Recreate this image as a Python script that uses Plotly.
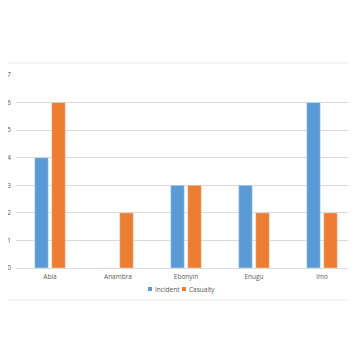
import plotly.graph_objects as go

states = ["Abia", "Anambra", "Ebonyin", "Enugu", "Imo"]
incident = [4, 0, 3, 3, 6]
casualty = [6, 2, 3, 2, 2]
y_ticks = [0, 1, 2, 3, 4, 5, 6, 7]
series_names = ["Incident", "Casualty"]
series_colors = ["#5B9BD5", "#ED7D31"]

OFF = 8  # default page body margin
W, H = 356 - OFF, 330
# target pixel layout (in window coordinates)
PLOT_L, PLOT_R, PLOT_T, PLOT_B = 16, 356, 75, 268
L, T = PLOT_L - OFF, PLOT_T - OFF
R = W - (PLOT_R - OFF)
B = H - (PLOT_B - OFF)
PW, PH = W - L - R, H - T - B


def px_x(px):
    return (px - PLOT_L) / PW


def px_y(py):
    return (PLOT_B - py) / PH


fig = go.Figure()
fig.add_trace(go.Bar(name=series_names[0], x=states, y=incident, marker_color=series_colors[0]))
fig.add_trace(go.Bar(name=series_names[1], x=states, y=casualty, marker_color=series_colors[1]))

shapes = [
    dict(type="line", xref="paper", yref="paper", x0=px_x(OFF), x1=px_x(356),
         y0=px_y(63), y1=px_y(63), line=dict(color="#EBEBEB", width=1)),
    dict(type="line", xref="paper", yref="paper", x0=px_x(OFF), x1=px_x(356),
         y0=px_y(300), y1=px_y(300), line=dict(color="#EBEBEB", width=1)),
]
annotations = []
legend_x = [148, 182]
for name, col, lx in zip(series_names, series_colors, legend_x):
    shapes.append(dict(type="rect", xref="paper", yref="paper",
                       x0=px_x(lx), x1=px_x(lx + 4), y0=px_y(291), y1=px_y(287),
                       fillcolor=col, line=dict(width=0)))
    annotations.append(dict(xref="paper", yref="paper", x=px_x(lx + 5), y=px_y(289),
                            xanchor="left", yanchor="middle", text=name, showarrow=False,
                            font=dict(size=6.5, color="#595959")))

fig.update_layout(
    width=W, height=H,
    margin=dict(l=L, r=R, t=T, b=B, autoexpand=False),
    paper_bgcolor="white", plot_bgcolor="white",
    barmode="group", bargap=0.5, bargroupgap=0.2,
    font=dict(family="Open Sans", size=7, color="#595959"),
    showlegend=False,
    xaxis=dict(showline=True, linecolor="#D9D9D9", ticks="", tickfont=dict(size=6.5),
               showgrid=False, automargin=False, ticklabelstandoff=2),
    yaxis=dict(range=[0, 7], tickvals=y_ticks, showgrid=True, gridcolor="#D9D9D9",
               gridwidth=1, zeroline=False, ticks="", tickfont=dict(size=6.5),
               automargin=False, ticklabelstandoff=4),
    shapes=shapes,
    annotations=annotations,
)

fig.write_html("out.html")
